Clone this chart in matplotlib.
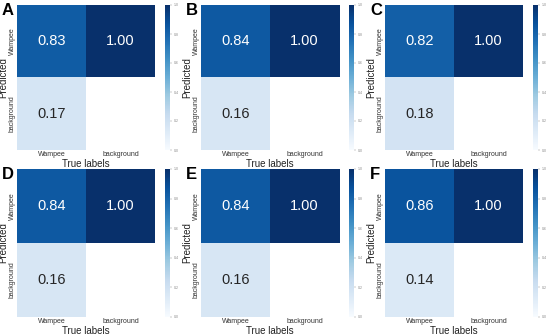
import numpy as np
import matplotlib
matplotlib.use("Agg")
import matplotlib.pyplot as plt

plt.rcParams['font.family'] = ['Liberation Sans', 'DejaVu Sans']

panel_labels = ['A', 'B', 'C', 'D', 'E', 'F']
class_labels = ['Wampee', 'background']
# predicted-as-wampee rate for true wampee, per panel
wampee_hit = [0.83, 0.84, 0.82, 0.84, 0.84, 0.86]
wampee_miss = [0.17, 0.16, 0.18, 0.16, 0.16, 0.14]
# background column
bg_as_wampee = [1.00, 1.00, 1.00, 1.00, 1.00, 1.00]
bg_as_bg = [0.00, 0.00, 0.00, 0.00, 0.00, 0.00]
cbar_ticks = [0.0, 0.2, 0.4, 0.6, 0.8, 1.0]

W, H = 550, 335
fig = plt.figure(figsize=(5.5, 3.35), dpi=100)

col_x = [17, 201, 385]
cbar_x = [165, 349, 533]
row_top = [5, 169]
row_h = [145, 148]
hm_w = 138

for i in range(6):
    r, c = divmod(i, 3)
    left = col_x[c] / W
    bottom = 1 - (row_top[r] + row_h[r]) / H
    ax = fig.add_axes([left, bottom, hm_w / W, row_h[r] / H])
    cm = np.array([[wampee_hit[i], bg_as_wampee[i]],
                   [wampee_miss[i], bg_as_bg[i]]])
    # zero cells are left blank (white)
    shown = np.ma.masked_where(cm == 0, cm)
    im = ax.imshow(shown, cmap='Blues', vmin=0, vmax=1, aspect='auto')
    for yy in range(2):
        for xx in range(2):
            v = cm[yy, xx]
            if v == 0:
                continue
            ax.text(xx, yy, '%.2f' % v, ha='center', va='center', fontsize=10.5,
                    color='white' if v > 0.5 else '#262626')
    ax.set_xticks([0, 1])
    ax.set_xticklabels(class_labels, fontsize=5, color='#333333')
    ax.set_yticks([0, 1])
    ax.set_yticklabels(class_labels, fontsize=5, rotation=90, va='center', color='#333333')
    ax.tick_params(length=0, pad=1)
    ax.set_xlabel('True labels', fontsize=7, labelpad=0.5, color='#222222')
    ax.set_ylabel('Predicted', fontsize=7, labelpad=0, color='#222222')
    for s in ax.spines.values():
        s.set_visible(False)

    cax = fig.add_axes([cbar_x[c] / W, bottom, 5 / W, row_h[r] / H])
    cb = fig.colorbar(im, cax=cax, ticks=cbar_ticks)
    cb.outline.set_visible(False)
    cb.ax.tick_params(labelsize=2.5, length=1.5, width=0.3, colors='#888888', pad=1)
    cb.ax.set_yticklabels(['%.1f' % t for t in cbar_ticks])

    fig.text((col_x[c] - 15) / W, 1 - (row_top[r] - 2) / H, panel_labels[i],
             fontsize=12, fontweight='bold', ha='left', va='top')

fig.savefig('out.png', dpi=100)
